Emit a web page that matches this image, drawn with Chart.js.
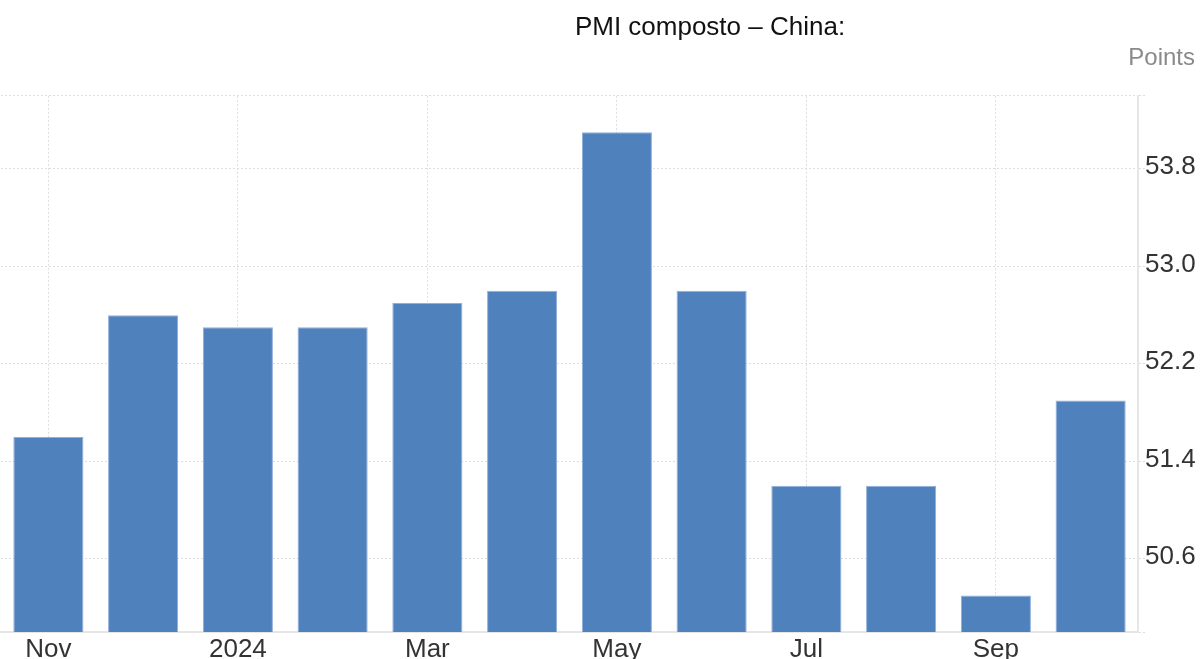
<!DOCTYPE html>
<html>
<head>
<meta charset="utf-8">
<script src="https://cdn.jsdelivr.net/npm/chart.js@4"></script>
<style>
  html, body { margin: 0; padding: 0; background: #fff; }
  canvas { display: block; }
</style>
</head>
<body>
<canvas id="chart" width="1200" height="659"></canvas>
<script>
const months = ["Nov", "Dec", "2024", "Feb", "Mar", "Apr", "May", "Jun", "Jul", "Aug", "Sep", "Oct"];
const pmiValues = [51.6, 52.6, 52.5, 52.5, 52.7, 52.8, 54.1, 52.8, 51.2, 51.2, 50.3, 51.9];
const yTicks = [50.6, 51.4, 52.2, 53.0, 53.8];
const yMin = 50.0;
const yMax = 54.4;
const chartTitle = "PMI composto – China:";

const FONT = "'Liberation Sans', Arial, sans-serif";
const gridColor = "#dddddd";

// title sits right of centre in the original, so it is drawn here
const titlePlugin = {
  id: "offsetTitle",
  afterDraw: function (chart) {
    const ctx = chart.ctx;
    ctx.save();
    ctx.font = "26px " + FONT;
    ctx.fillStyle = "#111";
    ctx.textAlign = "center";
    ctx.textBaseline = "middle";
    ctx.fillText(chartTitle, 710, 28);
    ctx.restore();
  },
};

new Chart(document.getElementById("chart"), {
  type: "bar",
  data: {
    labels: months,
    datasets: [
      {
        label: "PMI composto",
        data: pmiValues,
        backgroundColor: "#4f81bd",
        borderColor: "#8eaedb",
        borderWidth: 1,
        barPercentage: 0.74,
        categoryPercentage: 1,
      },
    ],
  },
  options: {
    responsive: false,
    devicePixelRatio: 1,
    animation: false,
    layout: {
      padding: { left: 1, right: 5, top: 0, bottom: 0 },
    },
    plugins: {
      legend: { display: false },
      tooltip: { enabled: false },
      title: { display: false },
      subtitle: {
        display: true,
        text: "Points",
        color: "#8a8a8a",
        align: "end",
        font: { family: FONT, size: 24, weight: "normal" },
        padding: { top: 44, bottom: 23 },
      },
    },
    scales: {
      x: {
        offset: true,
        grid: {
          offset: false,
          drawTicks: false,
          color: (ctx) => (ctx.index % 2 === 0 ? gridColor : "rgba(0,0,0,0)"),
        },
        border: { display: true, color: "#e6e6e6", width: 2, dash: [2, 2] },
        ticks: {
          autoSkip: false,
          maxRotation: 0,
          padding: 2,
          color: "#333",
          font: { family: FONT, size: 26 },
          callback: function (value, index) {
            return index % 2 === 0 ? months[index] : "";
          },
        },
        afterFit: function (scale) {
          scale.height = 27;
        },
      },
      y: {
        position: "right",
        min: yMin,
        max: yMax,
        afterBuildTicks: function (scale) {
          scale.ticks = [yMin, ...yTicks, yMax].map((v) => ({ value: v }));
        },
        afterFit: function (scale) {
          scale.width = 57;
        },
        grid: {
          color: gridColor,
          drawTicks: true,
          tickLength: 7,
          tickColor: gridColor,
          tickBorderDash: [2, 2],
        },
        border: { display: true, color: "#e6e6e6", width: 2, dash: [2, 2] },
        ticks: {
          padding: 0,
          labelOffset: -2,
          color: "#333",
          font: { family: FONT, size: 26 },
          callback: function (value) {
            return yTicks.includes(value) ? value.toFixed(1) : "";
          },
        },
      },
    },
  },
  plugins: [titlePlugin],
});
</script>
</body>
</html>
